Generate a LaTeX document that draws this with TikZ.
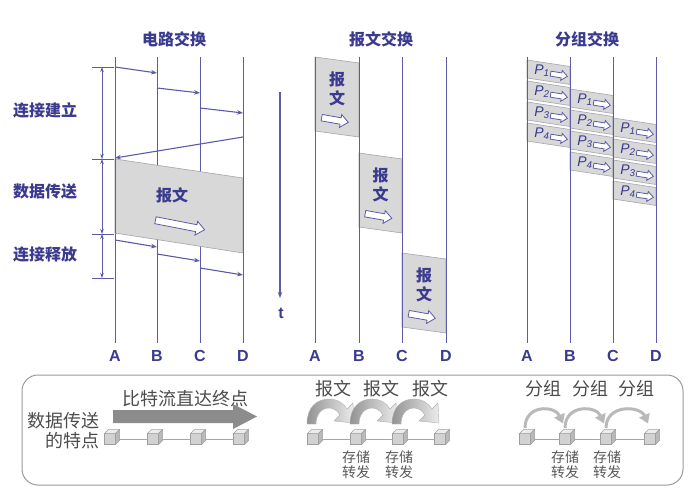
\documentclass[tikz,border=0pt]{standalone}
\usepackage{fontspec}
\setmainfont{Liberation Sans}
\newfontfamily\hei{Noto Sans CJK SC}
\usetikzlibrary{arrows.meta}
\definecolor{lineblue}{HTML}{5B5BA8}
\definecolor{textblue}{HTML}{3A3A8E}
\definecolor{msggray}{HTML}{D8D8D8}
\definecolor{edgegray}{HTML}{A4A4B0}
\definecolor{panelgray}{HTML}{9A9A9A}

\tikzset{
  pics/harrow/.style n args={2}{code={
    \draw[draw=lineblue, fill=white, line width=0.8pt]
      (-#1/2,-#2/4) -- (#1/2-#2*0.6,-#2/4) -- (#1/2-#2*0.6,-#2/2) -- (#1/2,0)
      -- (#1/2-#2*0.6,#2/2) -- (#1/2-#2*0.6,#2/4) -- (-#1/2,#2/4) -- cycle;
  }}
}

\begin{document}
\begin{tikzpicture}[x=1pt, y=-1pt,
  vline/.style={draw=lineblue, line width=1pt},
  sig/.style={draw=lineblue, line width=1.1pt, -{Stealth[length=6pt, width=4.5pt]}},
  span/.style={draw=lineblue, line width=0.7pt, {Stealth[length=5pt, width=3.5pt]}-{Stealth[length=5pt, width=3.5pt]}},
  tick/.style={draw=lineblue, line width=0.7pt},
  msg/.style={fill=msggray, draw=edgegray, line width=0.6pt},
  sectitle/.style={font=\hei\bfseries\fontsize{16}{16}\selectfont, text=textblue},
  lbl/.style={font=\hei\bfseries\fontsize{16}{19}\selectfont, text=textblue, align=center},
  station/.style={font=\bfseries\fontsize{16}{16}\selectfont, text=textblue},
  pname/.style={font=\itshape\fontsize{14}{14}\selectfont, text=textblue, inner sep=0pt},
  panel/.style={draw=panelgray, line width=1pt, rounded corners=16pt},
  note/.style={font=\hei\fontsize{18}{20}\selectfont, text=black!70},
  memo/.style={font=\hei\fontsize{14}{15}\selectfont, text=black!65, align=center},
  cube/.style={draw=gray!75, fill=gray!35, line width=0.5pt, minimum size=11pt, inner sep=0pt, outer sep=0pt},
  link/.style={draw=gray!70, line width=0.8pt},
  thinarr/.style={draw=gray!55, line width=3pt, -{Triangle[width=11pt, length=9pt]}},
  bigarr/.style={fill=black!45}
]
\fill[white] (0,0) rectangle (693,487);
\useasboundingbox (0,0) rectangle (693,487);

% circuit switching
\node[sectitle] (cstitle) at (174,39) {电路交换};
\foreach \x/\n in {115/A,157/B,200/C,243/D} {
  \draw[vline] (\x,57) -- (\x,343);
  \node[station] (cs\n) at (\x,356) {\n};
}
\draw[sig] (115,67) -- (157,73);
\draw[sig] (157,88) -- (200,93);
\draw[sig] (200,108) -- (243,113);
\draw[sig] (243,137) -- (115,158);
\filldraw[msg] (115,159) -- (243,178) -- (243,253) -- (115,233) -- cycle;
\draw[vline] (115,159) -- (115,233) (243,178) -- (243,253);
\node[lbl] (csmsg) at (172,195) {报文};
\pic[rotate=-11] (csarrow) at (180,225) {harrow={50}{14}};
\draw[sig] (115,240) -- (157,247);
\draw[sig] (157,254) -- (200,261);
\draw[sig] (200,268) -- (243,275);
\foreach \y in {67,159,234,278}
  \draw[tick] (92,\y) -- (114,\y);
\draw[span] (102,67) -- (102,159);
\draw[span] (102,159) -- (102,234);
\draw[span] (102,234) -- (102,278);
\node[lbl] (setup) at (45,110) {连接建立};
\node[lbl] (transfer) at (45,191) {数据传送};
\node[lbl] (release) at (45,254) {连接释放};
\draw[sig] (280,92) -- (280,298);
\node[station] (time) at (281,313) {t};

% message switching
\node[sectitle] (mstitle) at (381,39) {报文交换};
\foreach \xa/\xb/\yt/\k in {315/359/57/1, 359/402/153/2, 402/446/253/3} {
  \filldraw[msg] (\xa,\yt) -- (\xb,\yt+6) -- (\xb,\yt+80) -- (\xa,\yt+74) -- cycle;
  \node[lbl] (msg\k) at ({(\xa+\xb)/2},\yt+32) {报\\文};
  \pic[rotate=-10] (marr\k) at ({(\xa+\xb)/2-2},\yt+63) {harrow={27}{13}};
}
\foreach \x/\n in {315/A,359/B,402/C,446/D} {
  \draw[vline] (\x,57) -- (\x,343);
  \node[station] (ms\n) at (\x,356) {\n};
}

% packet switching
\node[sectitle] (pstitle) at (587,39) {分组交换};
\foreach \c in {0,1,2} {
  \foreach \p in {1,...,4} {
    \pgfmathsetmacro{\xl}{527+43*\c}
    \pgfmathsetmacro{\yt}{60+29*\c+21*(\p-1)}
    \filldraw[msg] (\xl,\yt) -- ++(43,6.5) -- ++(0,18) -- ++(-43,-6.5) -- cycle;
    \node[pname] (pk\c\p) at (\xl+15,\yt+11) {P\textsubscript{\p}};
    \pic[rotate=-9] (pa\c\p) at (\xl+32,\yt+15) {harrow={17}{10}};
  }
}
\foreach \x/\n in {527/A,570/B,613/C,656/D} {
  \draw[vline] (\x,57) -- (\x,343);
  \node[station] (ps\n) at (\x,356) {\n};
}

% features panel
\draw[panel] (22,375) rectangle (683,485);
\node[note, align=right, anchor=east] (feature) at (103,431) {数据传送\\的特点};
\node[note] (bitnote) at (185,399) {比特流直达终点};
\fill[bigarr] (113,410) -- (233,410) -- (233,404) -- (257,416.5) -- (233,429) -- (233,423) -- (113,423) -- cycle;

\foreach \x [count=\i] in {110,153,196,239}
  \node[cube] (cc\i) at (\x,439) {};
\foreach \x [count=\i] in {313,356,398,440}
  \node[cube] (mc\i) at (\x,439) {};
\foreach \x [count=\i] in {525,565,606,650}
  \node[cube] (pc\i) at (\x,439) {};
\foreach \a/\b in {cc1/cc2,cc2/cc3,cc3/cc4,mc1/mc2,mc2/mc3,mc3/mc4,pc1/pc2,pc2/pc3,pc3/pc4}
  \draw[link] (\a) -- (\b);
\foreach \n in {cc1,cc2,cc3,cc4,mc1,mc2,mc3,mc4,pc1,pc2,pc3,pc4} {
  \filldraw[fill=gray!15, draw=gray!75, line width=0.5pt] (\n.north west) -- ++(4,-4) -- ++(11,0) -- (\n.north east) -- cycle;
  \filldraw[fill=gray!55, draw=gray!75, line width=0.5pt] (\n.north east) -- ++(4,-4) -- ++(0,11) -- (\n.south east) -- cycle;
}

\foreach \x/\t in {333/报文,381/报文,430/报文}
  \node[note] at (\x,389) {\t};
\foreach \x in {313,356,398} {
  \begin{scope}[shift={(\x,424)}]
    \shade[left color=gray!85, right color=gray!15, draw=gray!60, line width=0.4pt]
      (-6,0) .. controls (-6,-17) and (4,-25) .. (16,-25)
      .. controls (25,-25) and (31,-20) .. (34,-15) -- (40,-21) -- (41,-1) -- (21,-3) -- (27,-9)
      .. controls (24,-14) and (20,-16) .. (16,-16)
      .. controls (8,-16) and (3,-9) .. (3,0) -- cycle;
  \end{scope}
}
\node[memo] (store1) at (356,465) {存储\\转发};
\node[memo] (store2) at (399,465) {存储\\转发};

\foreach \x in {543,590,636}
  \node[note] at (\x,389) {分组};
\draw[thinarr] ([shift={(0,-5.5)}]pc1.north) .. controls +(0,-24) and +(-8,-18) .. ([shift={(-2,-10)}]pc2.north);
\draw[thinarr] ([shift={(0,-5.5)}]pc2.north) .. controls +(0,-24) and +(-8,-18) .. ([shift={(-2,-10)}]pc3.north);
\draw[thinarr] ([shift={(0,-5.5)}]pc3.north) .. controls +(0,-24) and +(-8,-18) .. ([shift={(-2,-10)}]pc4.north);
\node[memo] (store3) at (565,465) {存储\\转发};
\node[memo] (store4) at (607,465) {存储\\转发};
\end{tikzpicture}
\end{document}
